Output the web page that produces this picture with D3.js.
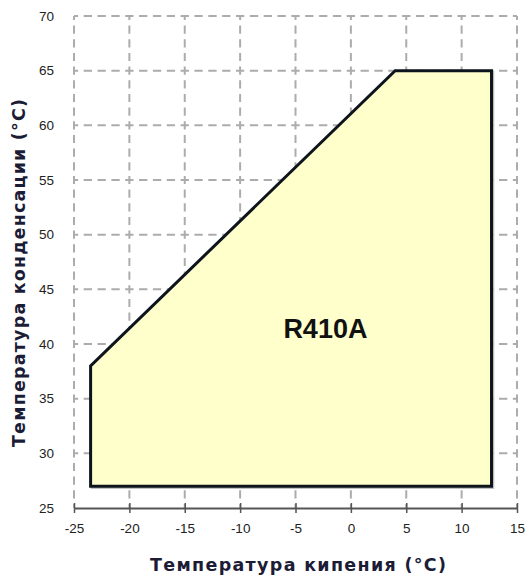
<!DOCTYPE html>
<html>
<head>
<meta charset="utf-8">
<script src="https://cdn.jsdelivr.net/npm/d3@7"></script>
<style>
  html, body { margin: 0; padding: 0; background: #fff; }
  svg { display: block; }
</style>
</head>
<body>
<div id="chart"></div>
<script>
// ---- data ----
const xTicks = [-25, -20, -15, -10, -5, 0, 5, 10, 15];
const yTicks = [25, 30, 35, 40, 45, 50, 55, 60, 65, 70];
const envelopeEvap = [-23.5, -23.5, 4, 12.7, 12.7];   // boiling temperature
const envelopeCond = [27, 38, 65, 65, 27];            // condensing temperature
const seriesLabel = "R410A";
const labelPos = [-2.3, 41.2];
const xTitle = "Температура кипения (°C)";
const yTitle = "Температура конденсации (°C)";

// ---- layout ----
const W = 528, H = 581;
const m = { left: 74, right: 11, top: 16, bottom: 73 };
const iw = W - m.left - m.right, ih = H - m.top - m.bottom;

const svg = d3.select("#chart").append("svg").attr("width", W).attr("height", H);
const g = svg.append("g").attr("transform", `translate(${m.left},${m.top})`);

const x = d3.scaleLinear().domain([-25, 15]).range([0, iw]);
const y = d3.scaleLinear().domain([25, 70]).range([ih, 0]);

const gridColor = "#acacac";
const xStep = x(xTicks[1]) - x(xTicks[0]);
const yStep = y(yTicks[0]) - y(yTicks[1]);
const xp = xStep / 4, yp = yStep / 4;

// horizontal grid lines (dashes centred on vertical grid lines)
g.append("g").selectAll("line").data(yTicks.filter(d => d > 25)).join("line")
  .attr("x1", 0).attr("x2", iw)
  .attr("y1", d => y(d)).attr("y2", d => y(d))
  .attr("stroke", gridColor).attr("stroke-width", 2)
  .attr("stroke-dasharray", `${xp * 0.6},${xp * 0.4}`)
  .attr("stroke-dashoffset", xp * 0.3);

// vertical grid lines
g.append("g").selectAll("line").data(xTicks).join("line")
  .attr("x1", d => x(d)).attr("x2", d => x(d))
  .attr("y1", 0).attr("y2", ih)
  .attr("stroke", gridColor).attr("stroke-width", 2)
  .attr("stroke-dasharray", `${yp * 0.6},${yp * 0.4}`)
  .attr("stroke-dashoffset", yp * 0.3);

// envelope polygon
const pts = envelopeEvap.map((v, i) => [x(v), y(envelopeCond[i])]);
const line = d3.line().curve(d3.curveLinearClosed);
g.append("path").attr("d", line(pts.map(p => [p[0] + 1.5, p[1] + 1.5])))
  .attr("fill", "none").attr("stroke", "#999").attr("stroke-width", 2.5).attr("opacity", 0.6);
g.append("path").attr("d", line(pts))
  .attr("fill", "#ffffcc").attr("stroke", "#0d141c").attr("stroke-width", 3)
  .attr("stroke-linejoin", "miter");

// bottom axis
const xAxis = d3.axisBottom(x).tickValues(xTicks).tickSize(0).tickPadding(15).tickFormat(d3.format("d"));
const ax = g.append("g").attr("transform", `translate(0,${ih})`).call(xAxis);
ax.select(".domain").attr("stroke", "#555").attr("stroke-width", 2);
ax.selectAll(".tick").append("line").attr("y1", -5).attr("y2", 5)
  .attr("stroke", "#555").attr("stroke-width", 1.5);
ax.selectAll("text").attr("font-family", "Arial, 'Liberation Sans', sans-serif")
  .attr("font-size", 13.5).attr("fill", "#222");
ax.selectAll(".tick text").text(d => d < 0 ? "-" + Math.abs(d) : d);

// left axis (labels only)
const yAxis = d3.axisLeft(y).tickValues(yTicks).tickSize(0).tickPadding(20);
const ay = g.append("g").call(yAxis);
ay.select(".domain").remove();
ay.selectAll("text").attr("font-family", "Arial, 'Liberation Sans', sans-serif")
  .attr("font-size", 13.5).attr("fill", "#222");

// series label
g.append("text").attr("x", x(labelPos[0])).attr("y", y(labelPos[1]))
  .attr("text-anchor", "middle").attr("dominant-baseline", "middle")
  .attr("font-family", "Arial, 'Liberation Sans', sans-serif")
  .attr("font-weight", "bold").attr("font-size", 27).attr("fill", "#111")
  .text(seriesLabel);

// axis titles
svg.append("text").attr("x", 298).attr("y", 571)
  .attr("text-anchor", "middle")
  .attr("font-family", "'DejaVu Sans', Verdana, sans-serif")
  .attr("font-weight", "bold").attr("font-size", 17.5).attr("fill", "#1c1c36")
  .attr("textLength", 296).attr("lengthAdjust", "spacing")
  .text(xTitle);

svg.append("text").attr("transform", `translate(25,273) rotate(-90)`)
  .attr("text-anchor", "middle")
  .attr("font-family", "'DejaVu Sans', Verdana, sans-serif")
  .attr("font-weight", "bold").attr("font-size", 17.5).attr("fill", "#1c1c36")
  .attr("textLength", 348).attr("lengthAdjust", "spacing")
  .text(yTitle);
</script>
</body>
</html>
